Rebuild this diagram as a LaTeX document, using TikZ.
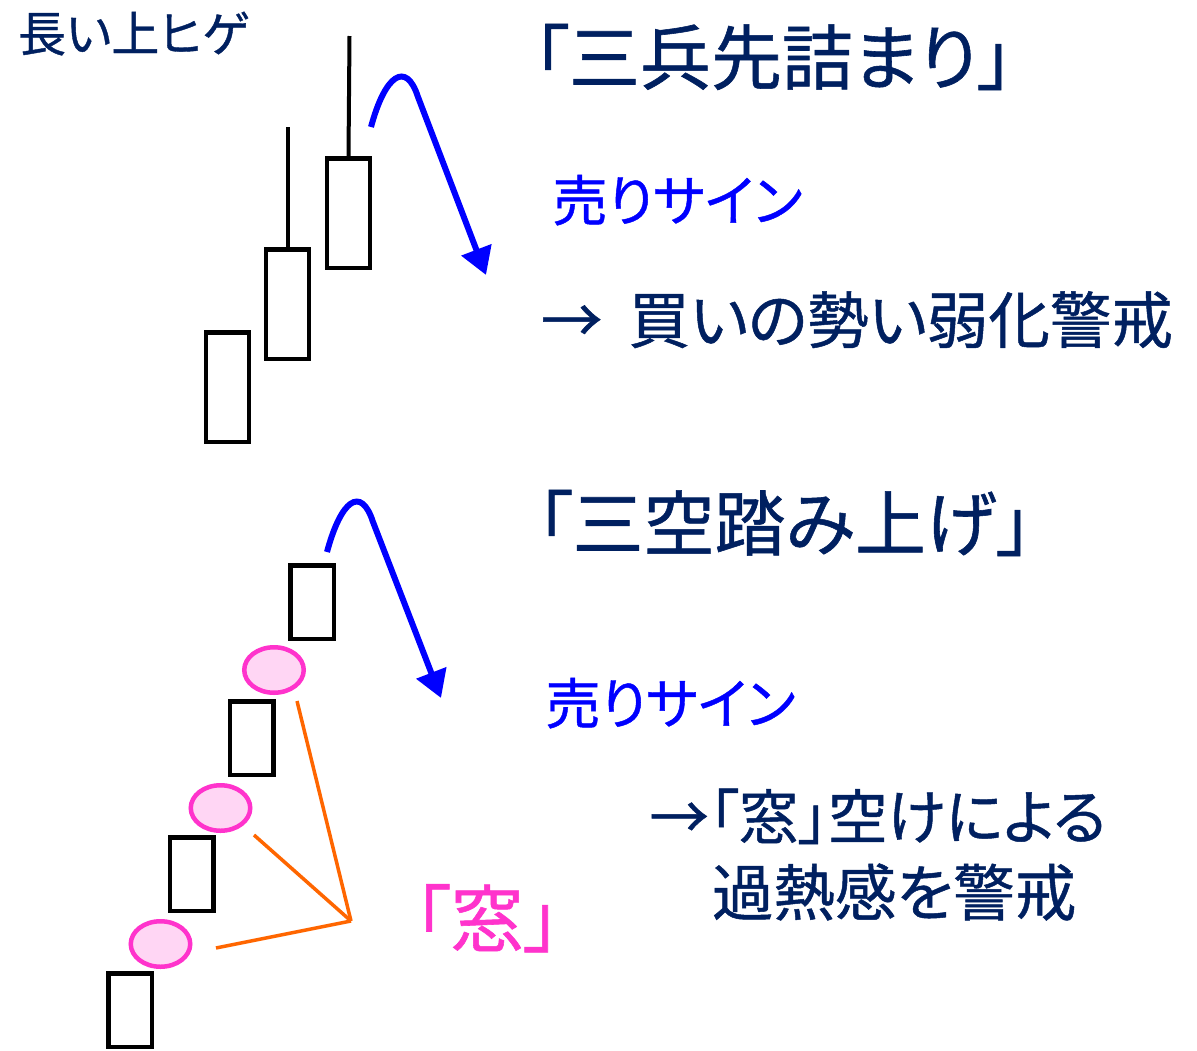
\documentclass[tikz,border=0pt]{standalone}
\usepackage{fontspec}
\setmainfont{Noto Sans CJK JP}[RawFeature=+palt,FakeBold=0.8]
\usetikzlibrary{shapes.geometric,arrows.meta}
\definecolor{navy}{HTML}{002060}
\definecolor{sblue}{HTML}{0000FF}
\definecolor{mado}{HTML}{FF33CC}
\definecolor{madofill}{HTML}{FFD6F4}
\definecolor{orng}{HTML}{FF6600}
\begin{document}
\begin{tikzpicture}[x=1pt,y=-1pt,
  txt/.style={anchor=base west,inner sep=0pt,outer sep=0pt,text=navy},
  tallcandle/.style={draw=black,line width=4.5pt,fill=white,inner sep=0pt,minimum width=43pt,minimum height=109.5pt},
  shortcandle/.style={draw=black,line width=4.5pt,fill=white,inner sep=0pt,minimum width=43.5pt,minimum height=73.5pt},
  wick/.style={draw=black,line width=4pt},
  gap/.style={ellipse,draw=mado,fill=madofill,line width=4.5pt,inner sep=0pt,minimum width=59.5pt,minimum height=45.5pt},
  signal/.style={draw=sblue,line width=6pt,-{Triangle[length=27pt,width=31pt]}},
  pointer/.style={draw=orng,line width=3.5pt}]
\useasboundingbox (0,0) rectangle (1197,1050);
\fill[white] (0,0) rectangle (1197,1050);

% ---------- top: 三兵先詰まり ----------
\node[txt] (hige) at (18,51.5) {\fontsize{48}{54}\selectfont 長い上ヒゲ};
\node[txt] (title1) at (533.5,84) {\fontsize{71}{78}\selectfont 「三兵先詰まり」};
\node[txt,text=sblue] (sell1) at (552.5,221) {\fontsize{55}{62}\selectfont 売りサイン};
\node[txt] (note1) at (541,343) {\fontsize{61.5}{68}\selectfont →\hspace{26pt}買いの勢い弱化警戒};

\node[tallcandle] (t1) at (227.5,387) {};
\node[tallcandle] (t2) at (287.5,304) {};
\node[tallcandle] (t3) at (348.5,213) {};
\coordinate (w2) at (287.5,127);
\coordinate (w3) at (349.5,36);
\draw[wick] (t2.north) -- (w2);
\draw[wick] (t3.north) -- (w3);

\coordinate (s1) at (371,127);
\coordinate (e1) at (486,275);
\draw[signal] (s1) .. controls (385,75) and (406,60) .. (418,97) -- (e1);

% ---------- bottom: 三空踏み上げ ----------
\node[txt] (title2) at (537,550) {\fontsize{71}{78}\selectfont 「三空踏み上げ」};
\node[txt,text=sblue] (sell2) at (545.5,724) {\fontsize{55}{62}\selectfont 売りサイン};
\node[txt] (note2a) at (649.5,839) {\fontsize{59.5}{66}\selectfont →「窓」空けによる};
\node[txt] (note2b) at (712,915.5) {\fontsize{61.5}{68}\selectfont 過熱感を警戒};
\node[txt,text=mado] (madolbl) at (414,946) {\fontsize{73}{80}\selectfont 「窓」};

\node[shortcandle] (b1) at (130,1010) {};
\node[shortcandle] (b2) at (191.5,874) {};
\node[shortcandle] (b3) at (251.5,738) {};
\node[shortcandle] (b4) at (312,602) {};

\node[gap] (g1) at (160.5,944) {};
\node[gap] (g2) at (220.5,808) {};
\node[gap] (g3) at (274,670) {};

\coordinate (hub) at (351,921);
\coordinate (p1) at (216,948);
\coordinate (p2) at (254,835);
\coordinate (p3) at (297,701);
\draw[pointer] (p1) -- (hub);
\draw[pointer] (p2) -- (hub);
\draw[pointer] (p3) -- (hub);

\coordinate (s2) at (327,552);
\coordinate (e2) at (441,698);
\draw[signal] (s2) .. controls (341,500) and (361,485) .. (373,522) -- (e2);
\end{tikzpicture}
\end{document}
